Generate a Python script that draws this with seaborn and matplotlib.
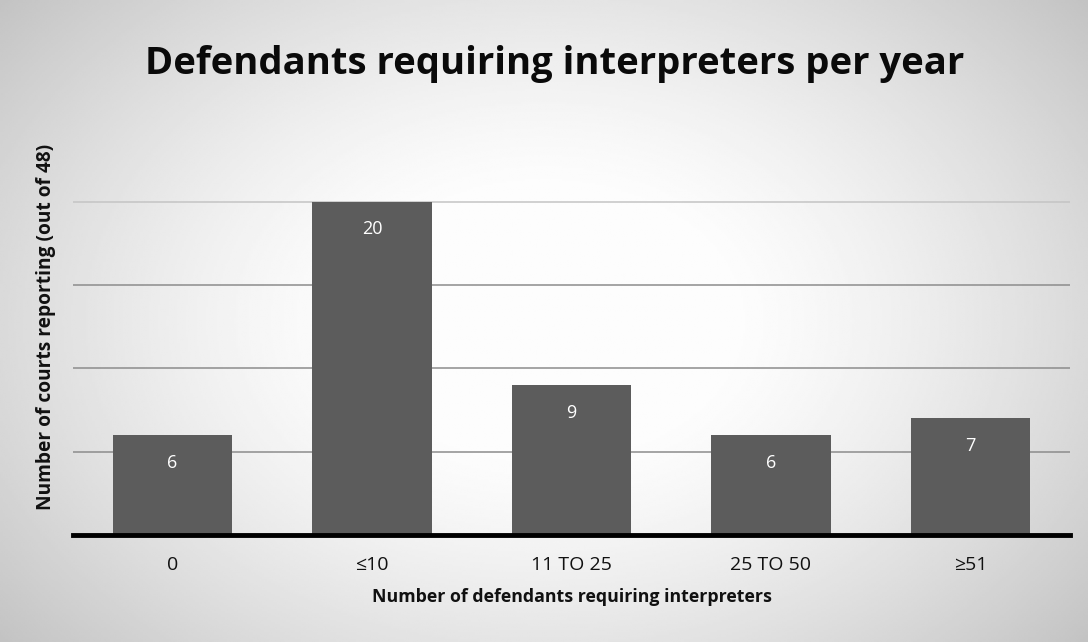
import numpy as np
import pandas as pd
import matplotlib
matplotlib.use("Agg")
import matplotlib.pyplot as plt
import seaborn as sns

# Survey results: courts reporting, by number of defendants needing interpreters
categories = ["0", "\u226410", "11 TO 25", "25 TO 50", "\u226551"]
courts = [6, 20, 9, 6, 7]
gridline_values = [5, 10, 15, 20]

sns.set_theme(style="white")
plt.rcParams["font.family"] = ["Open Sans", "DejaVu Sans"]

fig = plt.figure(figsize=(10.88, 6.42), dpi=100)

# Soft light-grey backdrop that brightens toward the middle
bg = fig.add_axes([0, 0, 1, 1], zorder=-10)
yy, xx = np.mgrid[-1:1:300j, -1:1:500j]
r = np.sqrt((xx / 1.0) ** 2 + (yy / 1.2) ** 2)
shade = 0.99 - 0.24 * np.clip(r - 0.35, 0, None) ** 1.3
bg.imshow(shade, cmap="gray", vmin=0, vmax=1, aspect="auto",
          extent=[0, 1, 0, 1], interpolation="bilinear")
bg.set_axis_off()

ax = fig.add_axes([0.067, 0.1667, 0.9165, 0.649])
ax.patch.set_alpha(0)

df = pd.DataFrame({"category": categories, "courts": courts})
sns.barplot(data=df, x="category", y="courts", color="#5c5c5c",
            saturation=1, width=0.6, linewidth=0, ax=ax, zorder=3)

ax.set_xlim(-0.5, len(categories) - 0.5)
ax.set_ylim(0, 25)
ax.set_yticks([])
for v in gridline_values:
    ax.axhline(v, color="#8c8c8c" if v < 20 else "#c4c4c4", lw=1.1, zorder=1)

for spine in ["top", "right", "left"]:
    ax.spines[spine].set_visible(False)
ax.spines["bottom"].set_color("black")
ax.spines["bottom"].set_linewidth(3.5)
ax.spines["bottom"].set_zorder(4)

for i, v in enumerate(courts):
    ax.annotate(str(v), (i, v), xytext=(0, -20), textcoords="offset points",
                ha="center", va="center", color="white", fontsize=13)

ax.tick_params(axis="x", length=0, pad=15, labelsize=14, colors="#111111")
ax.set_xlabel("Number of defendants requiring interpreters",
              fontsize=12.8, fontweight="bold", color="#111111", labelpad=10)
ax.set_ylabel("Number of courts reporting (out of 48)",
              fontsize=13.8, fontweight="bold", color="#111111", labelpad=12)

fig.text(0.51, 0.9, "Defendants requiring interpreters per year",
         ha="center", va="center", fontsize=27.5, fontweight="bold",
         color="#0a0a0a")

fig.savefig("out.png", dpi=100)
